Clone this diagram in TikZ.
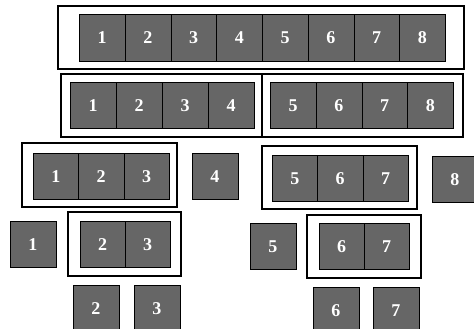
\documentclass[tikz,border=0pt]{standalone}
\definecolor{CellGray}{HTML}{666666}
\usepackage{fontspec}
\setmainfont{Liberation Serif}
\usepackage{tikz}
\usetikzlibrary{positioning}

\begin{document}
\begin{tikzpicture}[x=1pt, y=-1pt,
    cell/.style={draw=black, fill=CellGray, text=white, font=\fontsize{18}{18}\selectfont\bfseries,
                 minimum width=45.5pt, minimum height=46pt, inner sep=0pt, anchor=north west},
    frame/.style={draw=black, line width=1.4pt}]
    \useasboundingbox (0,0) rectangle (474,329);
    \clip (0,0) rectangle (474,329);
    % level 0: whole array
    \draw[frame] (58,6) rectangle (464,69);
    \foreach \n in {1,...,8}{
      \node[cell, minimum width=45.75pt, minimum height=47pt] (a\n) at ({79+(\n-1)*45.75}, 14) {\n};
    }
    % level 1: two halves
    \draw[frame] (61,74) rectangle (262,137);
    \draw[frame] (262,74) rectangle (463,137);
    \foreach \n in {1,...,4}{
      \node[cell, minimum width=46pt] (b\n) at ({70+(\n-1)*46}, 82) {\n};
    }
    \foreach \n in {5,...,8}{
      \node[cell, minimum width=45.75pt] (b\n) at ({270+(\n-5)*45.75}, 82) {\n};
    }
    % level 2
    \draw[frame] (22,143) rectangle (177,207);
    \foreach \n in {1,...,3}{
      \node[cell, minimum width=45.33pt] (c\n) at ({33+(\n-1)*45.33}, 153) {\n};
    }
    \node[cell] (c4) at (192,153) {4};
    \draw[frame] (262,146) rectangle (417,209);
    \foreach \n in {5,...,7}{
      \node[cell, minimum width=45.33pt] (c\n) at ({272+(\n-5)*45.33}, 155) {\n};
    }
    \node[cell] (c8) at (432,156) {8};
    % level 3
    \node[cell] (d1) at (10,221) {1};
    \draw[frame] (68,212) rectangle (181,276);
    \foreach \n in {2,3}{
      \node[cell, minimum width=45pt] (d\n) at ({80+(\n-2)*45}, 221) {\n};
    }
    \node[cell] (d5) at (250,223) {5};
    \draw[frame] (307,215) rectangle (421,278);
    \foreach \n in {6,7}{
      \node[cell, minimum width=45pt] (d\n) at ({319+(\n-6)*45}, 223) {\n};
    }
    % level 4: single cells
    \node[cell] (e2) at (73,285) {2};
    \node[cell] (e3) at (134,285) {3};
    \node[cell] (e6) at (313,287) {6};
    \node[cell] (e7) at (373,287) {7};
  \end{tikzpicture}
\end{document}
